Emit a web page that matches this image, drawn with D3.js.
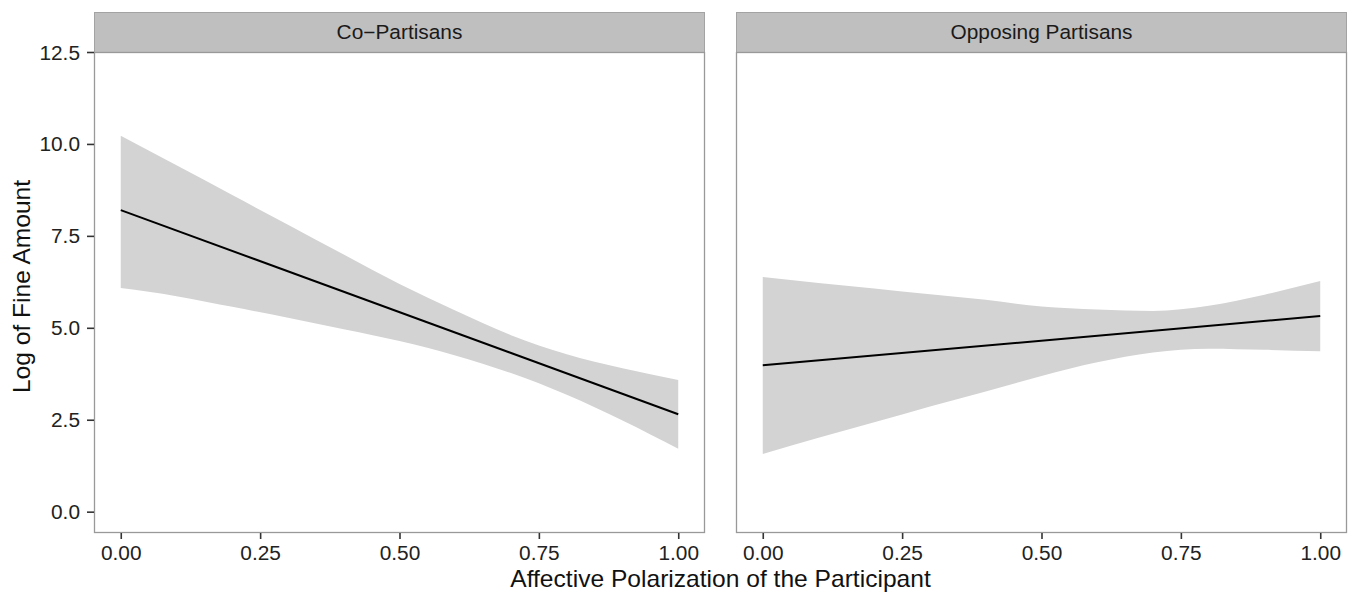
<!DOCTYPE html>
<html>
<head>
<meta charset="utf-8">
<script src="https://cdn.jsdelivr.net/npm/d3@7"></script>
<style>
  html, body { margin: 0; padding: 0; background: #fff; }
  svg { display: block; font-family: "Liberation Sans", Arial, Helvetica, sans-serif; }
</style>
</head>
<body>
<svg id="chart" width="1350" height="592"></svg>
<script>
// facet labels
const panels = ["Co\u2212Partisans", "Opposing Partisans"]

const bandX = [0, 0.1, 0.2, 0.3, 0.4, 0.5, 0.6, 0.7, 0.8, 0.9, 1.0]

// Co-Partisans: fitted line end points + ribbon
const coLineX = [0, 1]
const coLine = [8.2, 2.65]
const coUpper = [10.22, 9.42, 8.61, 7.8, 6.99, 6.19, 5.47, 4.8, 4.28, 3.9, 3.58]
const coLower = [6.08, 5.86, 5.57, 5.27, 4.96, 4.64, 4.25, 3.77, 3.18, 2.48, 1.71]

// Opposing Partisans
const opLineX = [0, 1]
const opLine = [3.98, 5.32]
const opUpper = [6.38, 6.22, 6.07, 5.91, 5.76, 5.58, 5.5, 5.46, 5.6, 5.9, 6.27]
const opLower = [1.57, 2.01, 2.43, 2.86, 3.27, 3.69, 4.06, 4.33, 4.43, 4.4, 4.36]

const xTicks = [0, 0.25, 0.5, 0.75, 1]
const yTicks = [0, 2.5, 5, 7.5, 10, 12.5]

const xTitle = "Affective Polarization of the Participant"
const yTitle = "Log of Fine Amount"

const svg = d3.select("#chart")

const panelTop = 52, panelBottom = 533, stripTop = 12
const panelLefts = [94, 736], panelWidth = 611
// the source image renders text a little wider than Arial
const stretch = 1.07

const y = d3.scaleLinear().domain([-0.58, 12.5]).range([panelBottom, panelTop])

const series = [
  { lineX: coLineX, line: coLine, upper: coUpper, lower: coLower },
  { lineX: opLineX, line: opLine, upper: opUpper, lower: opLower }
]

function wideText(sel, x, yPos) {
  sel.attr("x", null).attr("y", null)
    .attr("transform", `translate(${x},${yPos}) scale(${stretch},1)`)
}

panels.forEach((name, i) => {
  const left = panelLefts[i]
  const x = d3.scaleLinear().domain([-0.048, 1.048]).range([left, left + panelWidth])
  const s = series[i]
  const g = svg.append("g")

  // strip
  g.append("rect")
    .attr("x", left + 0.5).attr("y", stripTop + 0.5)
    .attr("width", panelWidth - 1).attr("height", panelTop - stripTop)
    .attr("fill", "#bfbfbf").attr("stroke", "#a3a3a3").attr("stroke-width", 1)
  g.append("text")
    .attr("text-anchor", "middle").attr("font-size", 19.5).attr("fill", "#1a1a1a")
    .text(name)
    .call(wideText, left + panelWidth / 2, 39)

  // ribbon
  const band = bandX.map((d, j) => ({ x: d, lo: s.lower[j], hi: s.upper[j] }))
  g.append("path")
    .datum(band)
    .attr("fill", "#d3d3d3")
    .attr("d", d3.area().curve(d3.curveMonotoneX)
      .x((d) => x(d.x)).y0((d) => y(d.lo)).y1((d) => y(d.hi)))

  // fitted line
  g.append("path")
    .datum(s.lineX.map((d, j) => [d, s.line[j]]))
    .attr("fill", "none").attr("stroke", "#000").attr("stroke-width", 2)
    .attr("d", d3.line().x((d) => x(d[0])).y((d) => y(d[1])))

  // panel border
  g.append("rect")
    .attr("x", left + 0.5).attr("y", panelTop + 0.5)
    .attr("width", panelWidth - 1).attr("height", panelBottom - panelTop - 1)
    .attr("fill", "none").attr("stroke", "#999").attr("stroke-width", 1.3)

  // x axis
  const xa = g.append("g")
    .attr("transform", `translate(0,${panelBottom})`)
    .call(d3.axisBottom(x).tickValues(xTicks).tickFormat(d3.format(".2f")).tickSizeOuter(0).tickSize(6))
  xa.select(".domain").remove()
  xa.selectAll("line").attr("stroke", "#333").attr("stroke-width", 1.6)
  xa.selectAll("text").attr("font-size", 19.5).attr("fill", "#222").attr("font-family", null)
    .attr("dy", null).call(wideText, 0, 27)

  // y axis (left panel only)
  if (i === 0) {
    const ya = g.append("g")
      .attr("transform", `translate(${left},0)`)
      .call(d3.axisLeft(y).tickValues(yTicks).tickFormat(d3.format(".1f")).tickSizeOuter(0).tickSize(7))
    ya.select(".domain").remove()
    ya.selectAll("line").attr("stroke", "#333").attr("stroke-width", 1.6)
    ya.selectAll("text").attr("font-size", 19.5).attr("fill", "#222").attr("font-family", null)
      .attr("dy", null).call(wideText, -14, 7)
  }
})

// axis titles
svg.append("text")
  .attr("text-anchor", "middle").attr("font-size", 23).attr("fill", "#111")
  .text(xTitle)
  .call(wideText, (panelLefts[0] + panelLefts[1] + panelWidth) / 2, 587)

svg.append("text")
  .attr("transform", `translate(30,${(panelTop + panelBottom) / 2 - 6}) rotate(-90) scale(${stretch},1)`)
  .attr("text-anchor", "middle").attr("font-size", 23).attr("fill", "#111")
  .text(yTitle)
</script>
</body>
</html>
